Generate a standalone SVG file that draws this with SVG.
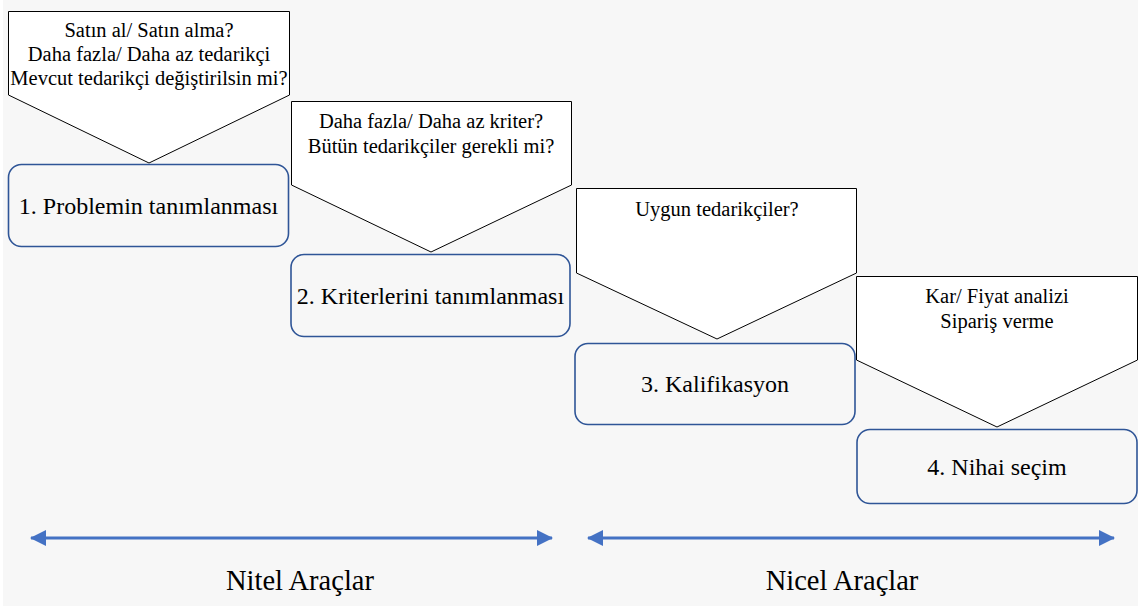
<svg xmlns="http://www.w3.org/2000/svg" width="1145" height="606" viewBox="0 0 1145 606">
  <defs>
    <style>
      .callout { fill: #ffffff; stroke: #000000; stroke-width: 1; }
      .step { fill: #f7f7f7; stroke: #2f5597; stroke-width: 1.6; }
      .axis { stroke: #4472c4; stroke-width: 3; fill: none; }
    </style>
    <marker id="head" viewBox="0 0 16 16" refX="15" refY="8" markerWidth="16" markerHeight="16" markerUnits="userSpaceOnUse" orient="auto-start-reverse">
      <path d="M0,0 L16,8 L0,16 z" fill="#4472c4"/>
    </marker>
  </defs>

  <rect x="0" y="0" width="1145" height="606" fill="#ffffff"/>
  <rect x="3" y="0" width="1135" height="606" fill="#f7f7f7"/>

  <g font-family="'Liberation Serif', 'DejaVu Serif', serif" text-anchor="middle" fill="#000">
    <!-- Step 1 -->
    <g id="step1">
      <polygon class="callout" points="8.5,11.5 289.5,11.5 289.5,95 149,163 8.5,95"/>
      <text x="149" y="37" font-size="20.5">Satın al/ Satın alma?</text>
      <text x="149" y="61" font-size="20.5">Daha fazla/ Daha az tedarikçi</text>
      <text x="149" y="85" font-size="20.5">Mevcut tedarikçi değiştirilsin mi?</text>
      <rect class="step" x="8.5" y="164.5" width="280" height="82" rx="13"/>
      <text x="148.5" y="214" font-size="24">1. Problemin tanımlanması</text>
    </g>

    <!-- Step 2 -->
    <g id="step2">
      <polygon class="callout" points="291.5,101.5 571.5,101.5 571.5,185 431,252 291.5,185"/>
      <text x="431" y="128" font-size="20.5">Daha fazla/ Daha az kriter?</text>
      <text x="431" y="153" font-size="20.5">Bütün tedarikçiler gerekli mi?</text>
      <rect class="step" x="291" y="254.5" width="279" height="82" rx="13"/>
      <text x="430.5" y="304" font-size="24">2. Kriterlerini tanımlanması</text>
    </g>

    <!-- Step 3 -->
    <g id="step3">
      <polygon class="callout" points="576.5,188.5 856.5,188.5 856.5,273 717,339 576.5,273"/>
      <text x="717" y="216" font-size="20.5">Uygun tedarikçiler?</text>
      <rect class="step" x="575" y="343.5" width="280" height="81" rx="13"/>
      <text x="715" y="392" font-size="24">3. Kalifikasyon</text>
    </g>

    <!-- Step 4 -->
    <g id="step4">
      <polygon class="callout" points="856.5,276.5 1137.5,276.5 1137.5,360 997,427 856.5,360"/>
      <text x="997" y="303" font-size="20.5">Kar/ Fiyat analizi</text>
      <text x="997" y="328" font-size="20.5">Sipariş verme</text>
      <rect class="step" x="857" y="429.5" width="280" height="74" rx="13"/>
      <text x="997" y="475" font-size="24">4. Nihai seçim</text>
    </g>

    <!-- Tool ranges -->
    <g id="connectors">
      <line class="axis" x1="31" y1="538" x2="552" y2="538" marker-start="url(#head)" marker-end="url(#head)"/>
      <line class="axis" x1="588" y1="538" x2="1114" y2="538" marker-start="url(#head)" marker-end="url(#head)"/>
    </g>

    <g id="nitel">
      <text x="300" y="590" font-size="28.5">Nitel Araçlar</text>
    </g>
    <g id="nicel">
      <text x="842" y="590" font-size="28.5">Nicel Araçlar</text>
    </g>
  </g>
</svg>
